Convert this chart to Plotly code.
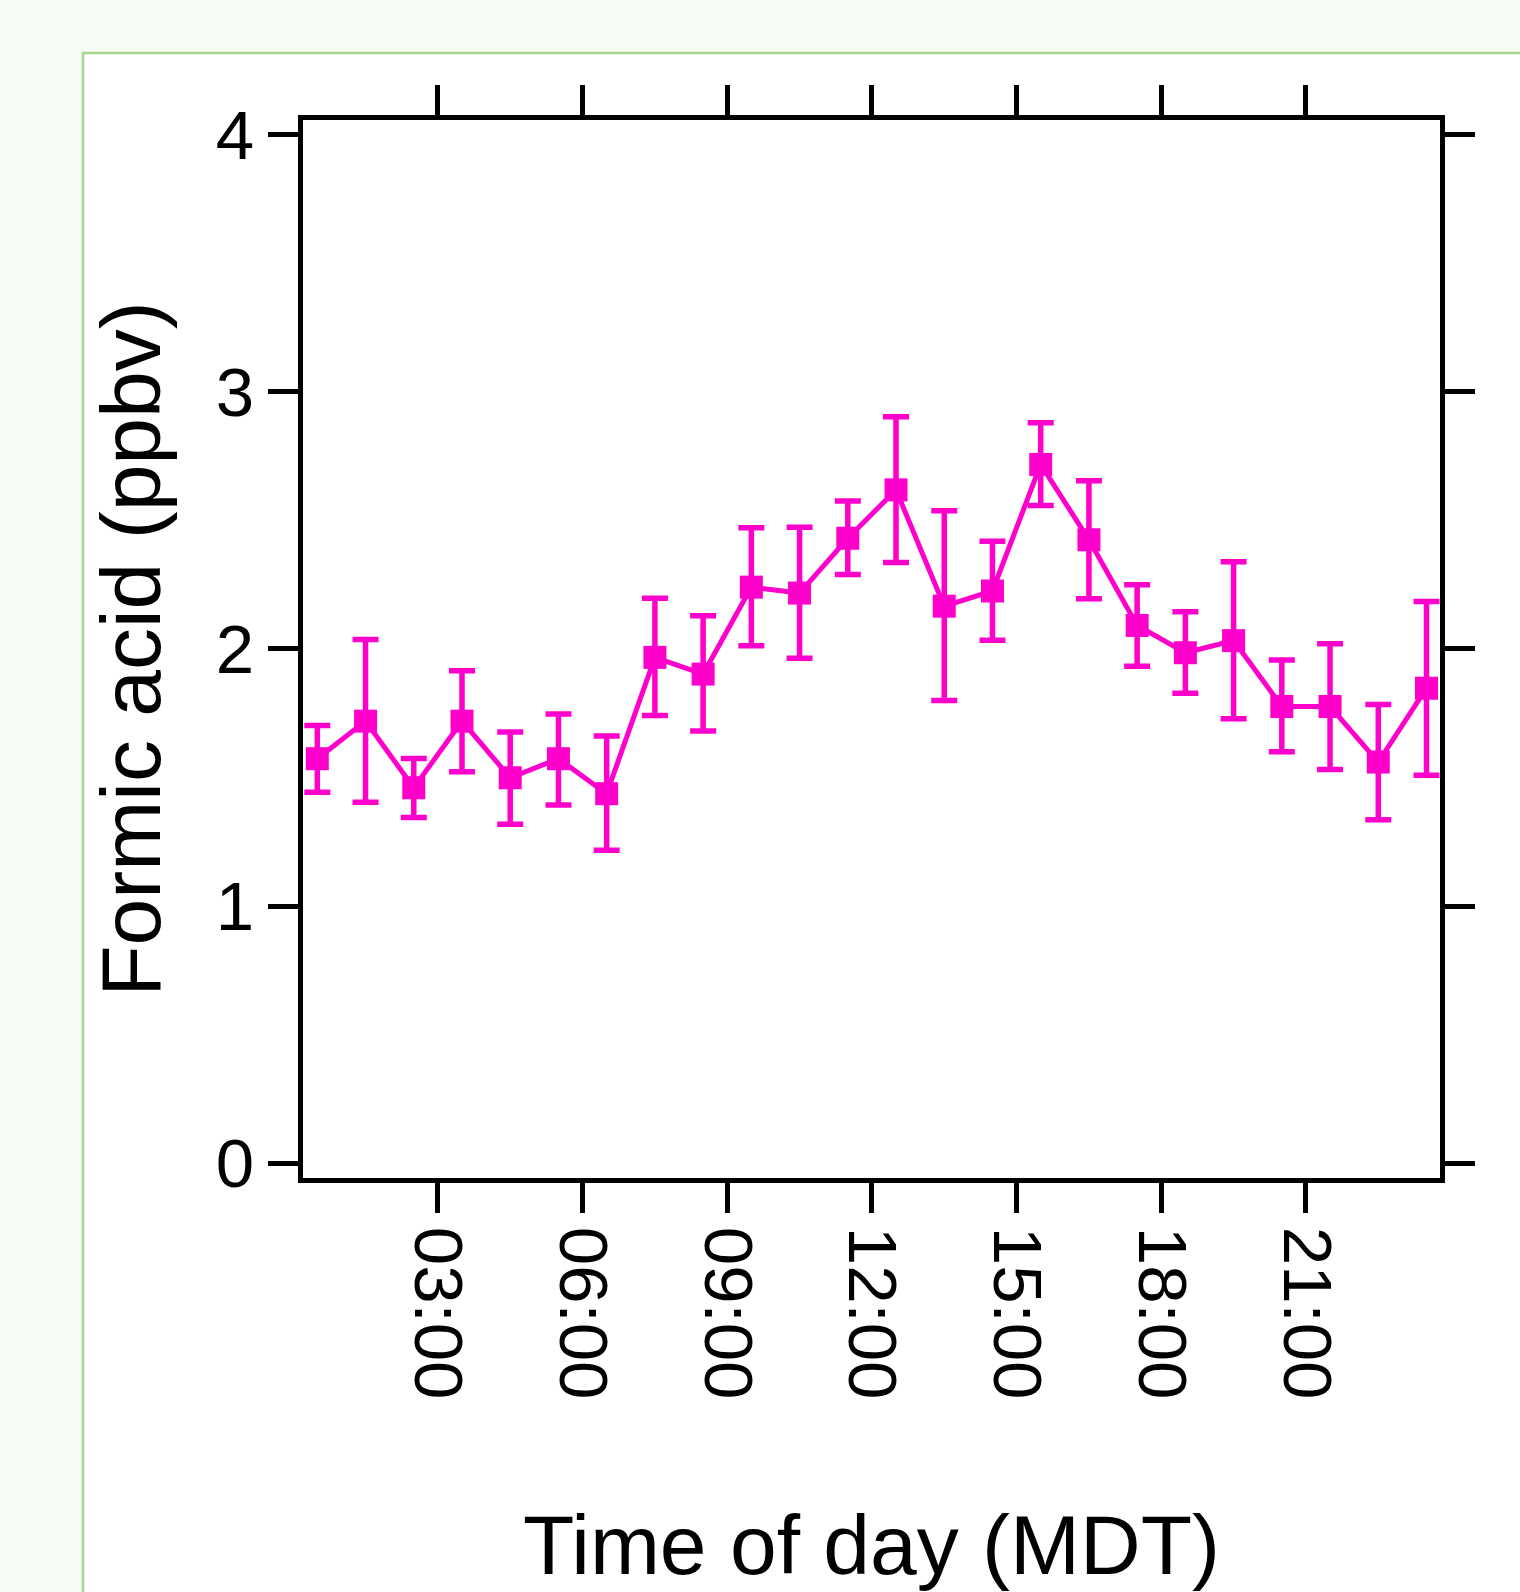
import plotly.graph_objects as go

# Time of day (hours, bin centres)
hours = [0.5, 1.5, 2.5, 3.5, 4.5, 5.5, 6.5, 7.5, 8.5, 9.5, 10.5, 11.5,
         12.5, 13.5, 14.5, 15.5, 16.5, 17.5, 18.5, 19.5, 20.5, 21.5, 22.5, 23.5]

# Formic acid mixing ratio (ppbv)
formic = [1.573, 1.719, 1.460, 1.719, 1.499, 1.573, 1.437, 1.967, 1.902, 2.240, 2.217, 2.430,
          2.618, 2.166, 2.225, 2.717, 2.424, 2.091, 1.985, 2.032, 1.776, 1.776, 1.560, 1.847]

# Upper / lower ends of the error bars (ppbv)
formic_hi = [1.702, 2.036, 1.574, 1.915, 1.677, 1.747, 1.661, 2.197, 2.129, 2.471, 2.473, 2.575,
             2.902, 2.537, 2.418, 2.879, 2.654, 2.249, 2.144, 2.339, 1.957, 2.020, 1.784, 2.184]
formic_lo = [1.443, 1.404, 1.344, 1.522, 1.318, 1.393, 1.217, 1.741, 1.681, 2.012, 1.964, 2.289,
             2.336, 1.799, 2.034, 2.557, 2.195, 1.932, 1.827, 1.728, 1.600, 1.531, 1.336, 1.509]

x_tickvals = [3, 6, 9, 12, 15, 18, 21]
x_ticktext = ["03:00", "06:00", "09:00", "12:00", "15:00", "18:00", "21:00"]
y_tickvals = [0, 1, 2, 3, 4]
y_ticktext = ["0", "1", "2", "3", "4"]

err_plus = [h - v for h, v in zip(formic_hi, formic)]
err_minus = [v - l for v, l in zip(formic, formic_lo)]

COLOR = "#ff00cc"
FONT = "Liberation Sans, Arial, sans-serif"

fig = go.Figure()
fig.add_trace(go.Scatter(
    x=hours, y=formic,
    mode="lines+markers",
    line=dict(color=COLOR, width=5),
    marker=dict(symbol="square", size=23, color=COLOR),
    error_y=dict(type="data", symmetric=False, array=err_plus, arrayminus=err_minus,
                 color=COLOR, thickness=5.5, width=13),
    showlegend=False,
))

axis_common = dict(
    showline=True, linewidth=5, linecolor="black", mirror="allticks",
    ticks="outside", ticklen=30, tickwidth=5, tickcolor="black",
    showgrid=False, zeroline=False, automargin=False,
    tickfont=dict(family=FONT, size=69, color="black"),
)

L, R, T, B = 303, 80, 120, 414
W, H = 1520, 1592
pw, ph = W - L - R, H - T - B

fig.update_layout(
    width=W, height=H,
    margin=dict(l=L, r=R, t=T, b=B, pad=0, autoexpand=False),
    paper_bgcolor="#f6fcf3",
    plot_bgcolor="white",
    font=dict(family=FONT, color="black"),
    xaxis=dict(range=[0.203, 23.78], tickvals=x_tickvals, ticktext=x_ticktext,
               tickangle=90,
               title=dict(text="Time of day (MDT)", font=dict(family=FONT, size=84), standoff=132),
               **axis_common),
    yaxis=dict(range=[-0.057, 4.056], tickvals=y_tickvals, ticktext=y_ticktext,
               title=dict(text="Formic acid (ppbv)", font=dict(family=FONT, size=84), standoff=29),
               **axis_common),
    shapes=[dict(type="rect", xref="paper", yref="paper", layer="below",
                 x0=(83 - L) / pw, x1=(W + 20 - L) / pw,
                 y0=-(H + 20 - (T + ph)) / ph, y1=(T + ph - 53) / ph,
                 fillcolor="white", line=dict(color="#a8d590", width=2.5))],
)

fig.write_html("out.html")
